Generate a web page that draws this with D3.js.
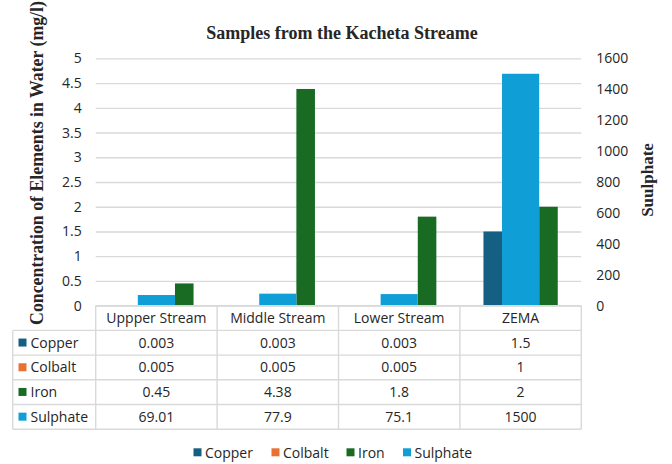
<!DOCTYPE html>
<html>
<head>
<meta charset="utf-8">
<script src="https://cdn.jsdelivr.net/npm/d3@7"></script>
<style>
  html, body { margin: 0; padding: 0; background: #fff; }
  svg { display: block; }
</style>
</head>
<body>
<svg id="chart" width="672" height="464"></svg>
<script>
// Sample sites along the stream plus the ZEMA reference limit
const categories = ["Uppper Stream", "Middle Stream", "Lower Stream", "ZEMA"];
const copper   = [0.003, 0.003, 0.003, 1.5];
const colbalt  = [0.005, 0.005, 0.005, 1];
const iron     = [0.45, 4.38, 1.8, 2];
const sulphate = [69.01, 77.9, 75.1, 1500];

const leftTicks  = [0, 0.5, 1, 1.5, 2, 2.5, 3, 3.5, 4, 4.5, 5];
const rightTicks = [0, 200, 400, 600, 800, 1000, 1200, 1400, 1600];

const seriesNames = ["Copper", "Colbalt", "Iron", "Sulphate"];
const seriesColors = ["#156082", "#E97132", "#196B24", "#0F9ED5"];

const svg = d3.select("#chart");
const plot = { left: 95.7, right: 581.3, top: 58.3, bottom: 305.7 };

const sans = "'Open Sans', 'Noto Sans', sans-serif";
const serif = "'Liberation Serif', 'DejaVu Serif', serif";
const textColor = "#262626";
const gridColor = "#d9d9d9";

const x = d3.scaleBand().domain(categories).range([plot.left, plot.right]).paddingInner(0).paddingOuter(0);
const yL = d3.scaleLinear().domain([0, 5]).range([plot.bottom, plot.top]);
const yR = d3.scaleLinear().domain([0, 1600]).range([plot.bottom, plot.top]);

// Title
svg.append("text")
  .attr("x", 342).attr("y", 39)
  .attr("text-anchor", "middle")
  .attr("font-family", serif).attr("font-weight", "bold")
  .attr("font-size", 18).attr("fill", textColor)
  .text("Samples from the Kacheta Streame");

// Gridlines + left axis
const gLeft = svg.append("g").attr("transform", `translate(${plot.left},0)`)
  .call(d3.axisLeft(yL).tickValues(leftTicks).tickSize(-(plot.right - plot.left)).tickPadding(14).tickFormat(d3.format("")));
gLeft.select(".domain").remove();
gLeft.selectAll(".tick line").attr("stroke", gridColor).attr("stroke-width", 1.3);
gLeft.selectAll(".tick text").attr("font-family", sans).attr("font-size", 14).attr("fill", textColor);

// Right axis
const gRight = svg.append("g").attr("transform", `translate(${plot.right},0)`)
  .call(d3.axisRight(yR).tickValues(rightTicks).tickSize(0).tickPadding(15).tickFormat(d3.format("")));
gRight.select(".domain").remove();
gRight.selectAll(".tick text").attr("font-family", sans).attr("font-size", 14).attr("fill", textColor);

// Axis titles
svg.append("text")
  .attr("transform", `translate(43,163) rotate(-90)`)
  .attr("text-anchor", "middle")
  .attr("font-family", serif).attr("font-weight", "bold")
  .attr("font-size", 17.8).attr("fill", textColor)
  .text("Concentration of Elements in Water (mg/l)");

svg.append("text")
  .attr("transform", `translate(652.5,180) rotate(-90)`)
  .attr("text-anchor", "middle")
  .attr("font-family", serif).attr("font-weight", "bold")
  .attr("font-size", 17).attr("fill", textColor)
  .text("Suulphate");

// Bars: primary series occupy slots around the category centre, sulphate (secondary axis) spans the middle two
const slot = x.bandwidth() * 0.153;
const centre = c => x(c) + x.bandwidth() / 2;
const primary = [
  { name: "Copper", values: copper, color: seriesColors[0], offset: -2 },
  { name: "Colbalt", values: colbalt, color: seriesColors[1], offset: -1 },
  { name: "Iron", values: iron, color: seriesColors[2], offset: 1 }
];
const bars = svg.append("g");
primary.forEach(s => {
  bars.append("g").selectAll("rect")
    .data(categories.map((c, i) => ({ c, v: s.values[i] })))
    .join("rect")
    .attr("x", d => centre(d.c) + s.offset * slot)
    .attr("width", slot)
    .attr("y", d => yL(d.v))
    .attr("height", d => yL(0) - yL(d.v))
    .attr("fill", s.color);
});
bars.append("g").selectAll("rect")
  .data(categories.map((c, i) => ({ c, v: sulphate[i] })))
  .join("rect")
  .attr("x", d => centre(d.c) - slot)
  .attr("width", 2 * slot)
  .attr("y", d => yR(d.v))
  .attr("height", d => yR(0) - yR(d.v))
  .attr("fill", seriesColors[3]);

// Data table under the plot
const rowH = 24.7;
const tableLeft = 12.7;
const tTop = plot.bottom;
const rows = [
  { name: "Copper", values: copper },
  { name: "Colbalt", values: colbalt },
  { name: "Iron", values: iron },
  { name: "Sulphate", values: sulphate }
];
const table = svg.append("g");
const lineStyle = sel => sel.attr("stroke", gridColor).attr("stroke-width", 1.4).attr("fill", "none");

// Horizontal rules
table.append("line").attr("x1", plot.left).attr("x2", plot.right).attr("y1", tTop).attr("y2", tTop).call(lineStyle);
for (let r = 1; r <= rows.length + 1; r++) {
  table.append("line").attr("x1", tableLeft).attr("x2", plot.right)
    .attr("y1", tTop + r * rowH).attr("y2", tTop + r * rowH).call(lineStyle);
}
// Vertical rules
table.append("line").attr("x1", tableLeft).attr("x2", tableLeft)
  .attr("y1", tTop + rowH).attr("y2", tTop + (rows.length + 1) * rowH).call(lineStyle);
const colEdges = categories.map(c => x(c)).concat([plot.right]);
colEdges.forEach(xe => {
  table.append("line").attr("x1", xe).attr("x2", xe)
    .attr("y1", tTop).attr("y2", tTop + (rows.length + 1) * rowH).call(lineStyle);
});

// Header
table.append("g").selectAll("text").data(categories).join("text")
  .attr("x", d => centre(d)).attr("y", tTop + rowH / 2)
  .attr("dy", "0.36em").attr("text-anchor", "middle")
  .attr("font-family", sans).attr("font-size", 14).attr("fill", textColor)
  .text(d => d);

// Body rows
rows.forEach((row, r) => {
  const yMid = tTop + (r + 1.5) * rowH;
  table.append("rect")
    .attr("x", 18.5).attr("y", yMid - 4.2).attr("width", 8).attr("height", 8)
    .attr("fill", seriesColors[r]);
  table.append("text")
    .attr("x", 30.5).attr("y", yMid).attr("dy", "0.36em")
    .attr("font-family", sans).attr("font-size", 14).attr("fill", textColor)
    .text(row.name);
  table.append("g").selectAll("text").data(categories).join("text")
    .attr("x", d => centre(d)).attr("y", yMid).attr("dy", "0.36em")
    .attr("text-anchor", "middle")
    .attr("font-family", sans).attr("font-size", 14).attr("fill", textColor)
    .text((d, i) => String(row.values[i]));
});

// Legend
const legendY = 452.5;
const legendX = [193.5, 271.5, 346.5, 403];
const legend = svg.append("g");
seriesNames.forEach((n, i) => {
  legend.append("rect").attr("x", legendX[i]).attr("y", legendY - 4.2)
    .attr("width", 8).attr("height", 8).attr("fill", seriesColors[i]);
  legend.append("text").attr("x", legendX[i] + 11.5).attr("y", legendY).attr("dy", "0.36em")
    .attr("font-family", sans).attr("font-size", 14).attr("fill", textColor)
    .text(n);
});
</script>
</body>
</html>
